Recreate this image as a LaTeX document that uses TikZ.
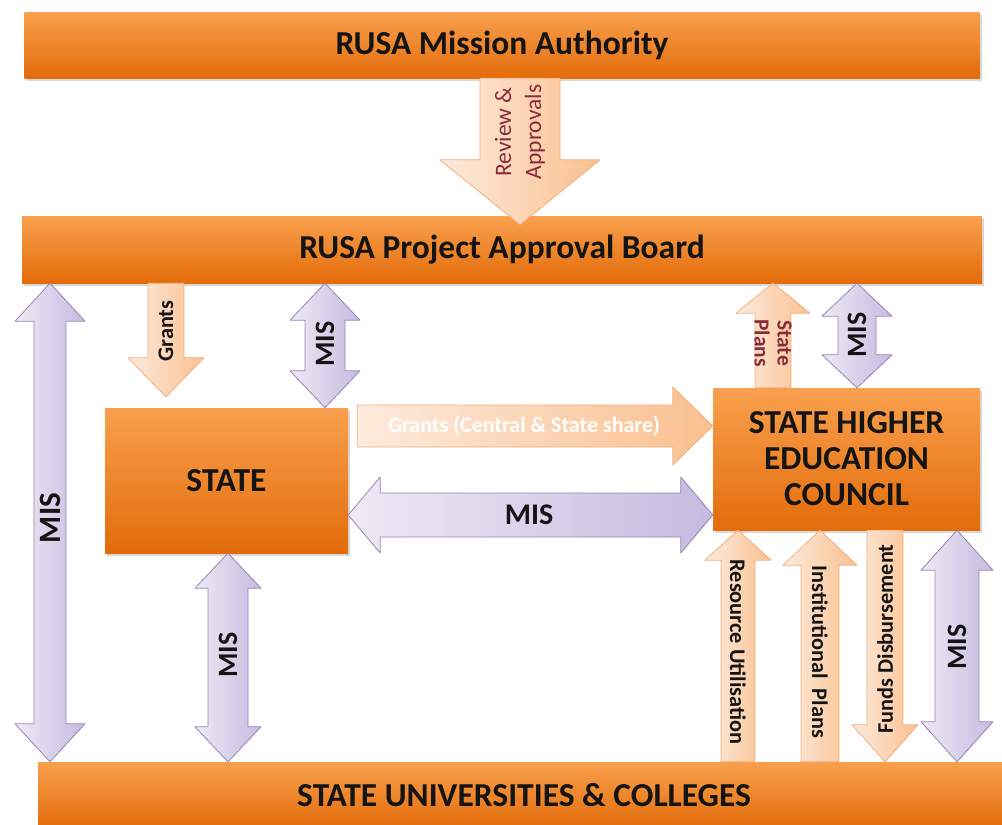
\documentclass[tikz,border=0pt]{standalone}
\usepackage{fontspec}
\setmainfont{Carlito}
\usetikzlibrary{calc,shadows}

\definecolor{orangeT}{HTML}{F9A04E}
\definecolor{orangeB}{HTML}{E36C0A}
\definecolor{peachL}{HTML}{FDEBDD}
\definecolor{peachD}{HTML}{FAC08F}
\definecolor{peachE}{HTML}{EFAF7E}
\definecolor{lilacL}{HTML}{EEEAF6}
\definecolor{lilacD}{HTML}{C6BADF}
\definecolor{lilacE}{HTML}{9486B4}
\definecolor{wine}{HTML}{8A2B3C}

\tikzset{
  box/.style={top color=orangeT, bottom color=orangeB, inner sep=0pt, align=center,
    font=\bfseries\fontsize{33.5}{36}\selectfont, text=black!92,
    drop shadow={opacity=0.3, shadow xshift=2pt, shadow yshift=-3pt}},
  peachy/.style={left color=peachL, right color=peachD, draw=peachE, line width=0.8pt, line join=round},
  lilac/.style={left color=lilacL, right color=lilacD, draw=lilacE, line width=0.8pt, line join=round},
  mislabel/.style={font=\bfseries\fontsize{28}{32}\selectfont, text=black!92},
  tag/.style={font=\bfseries\fontsize{22.3}{26}\selectfont, align=center, text=black!92},
}

% block arrow: tail (#2), tip (#3), half shaft : half head : head length
\def\blockarrow[#1](#2)(#3)(#4:#5:#6){%
  \coordinate (ba-a) at (#2);
  \coordinate (ba-b) at (#3);
  \coordinate (ba-c) at ($(ba-b)!#6pt!(ba-a)$);
  \draw[#1] ($(ba-a)!#4pt!90:(ba-b)$) -- ($(ba-c)!#4pt!90:(ba-b)$) -- ($(ba-c)!#5pt!90:(ba-b)$) -- (ba-b)
    -- ($(ba-c)!#5pt!-90:(ba-b)$) -- ($(ba-c)!#4pt!-90:(ba-b)$) -- ($(ba-a)!#4pt!-90:(ba-b)$) -- cycle;}
% same with a head at both ends
\def\twinarrow[#1](#2)(#3)(#4:#5:#6){%
  \coordinate (ba-a) at (#2);
  \coordinate (ba-b) at (#3);
  \coordinate (ba-c) at ($(ba-a)!#6pt!(ba-b)$);
  \coordinate (ba-d) at ($(ba-b)!#6pt!(ba-a)$);
  \draw[#1] (ba-a) -- ($(ba-c)!#5pt!90:(ba-b)$) -- ($(ba-c)!#4pt!90:(ba-b)$) -- ($(ba-d)!#4pt!-90:(ba-a)$)
    -- ($(ba-d)!#5pt!-90:(ba-a)$) -- (ba-b) -- ($(ba-d)!#5pt!90:(ba-a)$) -- ($(ba-d)!#4pt!90:(ba-a)$)
    -- ($(ba-c)!#4pt!-90:(ba-b)$) -- ($(ba-c)!#5pt!-90:(ba-b)$) -- cycle;}

\begin{document}
\begin{tikzpicture}[x=1pt,y=-1pt]
		\useasboundingbox[fill=white] (0,0) rectangle (1002,825);
		
		%%%%% BOXES %%%%%
		\node[box, minimum width=955pt, minimum height=66pt] (mission) at (502,45) {RUSA Mission Authority};
		\node[box, minimum width=960pt, minimum height=67pt] (pab) at (502,249.5) {RUSA Project Approval Board};
		\node[box, minimum width=243pt, minimum height=145pt] (state) at (226.5,480.5) {STATE};
		\node[box, minimum width=267pt, minimum height=142pt] (shec) at (846.5,459) {STATE HIGHER\\EDUCATION\\COUNCIL};
		\node[box, minimum width=972pt, minimum height=66pt] (colleges) at (524,795) {STATE UNIVERSITIES \& COLLEGES};
		
		%%%%% ARROWS %%%%%
		\coordinate (review-tip) at ($(pab.north -| 520,0)+(0,9)$);
		\blockarrow[peachy](mission.south -| 520,0)(review-tip)(40:80:65)
		\twinarrow[lilac](pab.south -| 50,0)(colleges.north -| 50,0)(16:35:38)
		\coordinate (grants-tip) at ($(state.north -| 166,0)+(0,-11)$);
		\blockarrow[peachy](pab.south -| 166,0)(grants-tip)(18:38:39)
		\twinarrow[lilac](pab.south -| 325,0)(state.north -| 325,0)(20:35:37)
		\coordinate (share-tail) at ($(state.east |- 0,426)+(9,0)$);
		\blockarrow[peachy](share-tail)(shec.west |- 0,426)(21:39:40)
		\twinarrow[lilac](state.east |- 0,515)(shec.west |- 0,515)(22:38:32)
		\blockarrow[peachy](shec.north -| 773,0)(pab.south -| 773,0)(18:37:30)
		\twinarrow[lilac](pab.south -| 857,0)(shec.north -| 857,0)(19:35:33)
		\twinarrow[lilac](state.south -| 228,0)(colleges.north -| 228,0)(20:33:35)
		\blockarrow[peachy](colleges.north -| 738,0)(shec.south -| 738,0)(17:33:30)
		\blockarrow[peachy](colleges.north -| 820,0)(shec.south -| 820,0)(19:37:35)
		\blockarrow[peachy](shec.south -| 885,0)(colleges.north -| 885,0)(18:33:37)
		\twinarrow[lilac](shec.south -| 957,0)(colleges.north -| 957,0)(22:36:40)
		
		%%%%% LABELS %%%%%
		\node[tag, font=\fontsize{23.5}{30}\selectfont, text=wine, rotate=90] (review) at (520,132) {Review \&\\Approvals};
		\node[mislabel, font=\bfseries\fontsize{31}{36}\selectfont, rotate=90] (mis-left) at (50,518) {MIS};
		\node[tag, rotate=90] (grants) at (166,331) {Grants};
		\node[mislabel, rotate=90] (mis-pab) at (325,344) {MIS};
		\node[tag, font=\bfseries\fontsize{22}{26}\selectfont, text=white] (share) at (524,426) {Grants (Central \& State share)};
		\node[mislabel, font=\bfseries\fontsize{30}{34}\selectfont] (mis-mid) at (529,515) {MIS};
		\node[tag, font=\bfseries\fontsize{21.5}{23}\selectfont, text=wine, rotate=-90] (plans) at (773,343) {State\\Plans};
		\node[mislabel, rotate=90] (mis-shec) at (857,335) {MIS};
		\node[mislabel, rotate=90] (mis-state) at (228,655) {MIS};
		\node[tag, rotate=-90] (resource) at (738,652) {Resource Utilisation};
		\node[tag, rotate=-90] (institutional) at (820,652) {Institutional~~Plans};
		\node[tag, rotate=90] (funds) at (885,639) {Funds Disbursement};
		\node[mislabel, rotate=90] (mis-right) at (957,647) {MIS};
\end{tikzpicture}
\end{document}
